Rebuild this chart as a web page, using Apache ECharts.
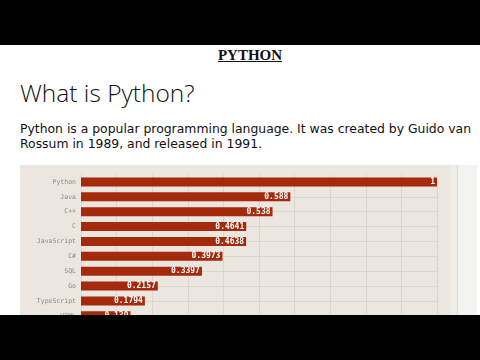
<!DOCTYPE html>
<html><head><meta charset="utf-8">
<script src="https://cdn.jsdelivr.net/npm/echarts@6/dist/echarts.min.js"></script>
<style>
html,body{margin:0;padding:0;background:#fff;width:480px;height:360px;overflow:hidden;position:relative;}
.bar{position:absolute;left:0;width:480px;background:#000;z-index:10;}
#t1{position:absolute;left:10px;width:480px;top:47px;text-align:center;font-family:"Liberation Serif",serif;font-weight:bold;font-size:15px;text-decoration:underline;color:#111;}
#h1{position:absolute;left:20px;top:76px;font-family:"Open Sans",sans-serif;font-weight:300;font-size:24.5px;color:#111;white-space:nowrap;}
#p{position:absolute;left:20px;top:121px;font-family:"DejaVu Sans",sans-serif;font-size:12.4px;line-height:15px;color:#111;white-space:nowrap;}
#panel{position:absolute;left:20px;top:165px;width:430px;height:160px;background:#ebe6df;}
#strip{position:absolute;left:450px;top:165px;width:7px;height:160px;background:#efebe6;}
#vline{position:absolute;left:457px;top:165px;width:1px;height:160px;background:#dcdcdc;}
#right{position:absolute;left:458px;top:165px;width:19px;height:160px;background:#f3f3f1;}
#chart{position:absolute;left:20px;top:165px;width:430px;height:170px;}
</style></head>
<body>
<div class="bar" style="top:0;height:45px"></div>
<div class="bar" style="top:315px;height:45px"></div>
<div id="t1">PYTHON</div>
<div id="h1">What is Python?</div>
<div id="p">Python is a popular programming language. It was created by Guido van<br>Rossum in 1989, and released in 1991.</div>
<div id="panel"></div><div id="strip"></div><div id="vline"></div><div id="right"></div>
<div id="chart"></div>
<script>
const languages = ["Python","Java","C++","C","JavaScript","C#","SQL","Go","TypeScript","HTML"];
const scores = [1, 0.588, 0.538, 0.4641, 0.4638, 0.3973, 0.3397, 0.2157, 0.1794, 0.139];

const chart = echarts.init(document.getElementById('chart'), null, {renderer:'canvas'});
chart.setOption({
  backgroundColor: 'transparent',
  animation: false,
  grid: {left: 61, top: 9.5, width: 356, height: 148.75, containLabel: false},
  xAxis: {
    type: 'value', min: 0, max: 1, interval: 0.1,
    axisLabel: {show: false}, axisLine: {show: false}, axisTick: {show: false},
    splitLine: {show: true, lineStyle: {color: '#ddd6cd', width: 1}}
  },
  yAxis: {
    type: 'category', data: languages, inverse: true,
    axisLine: {show: false}, axisTick: {show: false},
    axisLabel: {fontFamily: 'DejaVu Sans Mono', fontSize: 6.5, color: '#8e8a86', margin: 5},
    splitLine: {show: false}
  },
  series: [{
    type: 'bar', data: scores, barWidth: 9, z: 3,
    itemStyle: {color: '#a5290b'},
    label: {show: true, position: 'insideRight', distance: 2, color: '#fff',
      fontFamily: 'DejaVu Sans Mono', fontWeight: 'bold', fontSize: 8},
    markLine: {
      silent: true, z: 1, symbol: ['none','none'],
      label: {show: false},
      lineStyle: {color: '#ddd6cd', width: 1, type: 'solid'},
      data: languages.map(l => ({yAxis: l}))
    }
  }]
});
</script>
</body></html>
